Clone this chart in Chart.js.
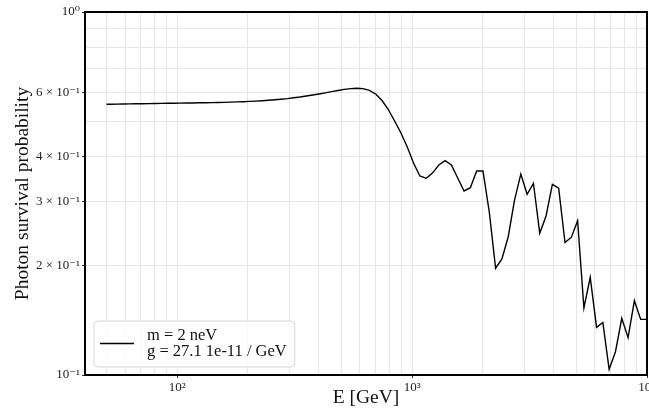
<!DOCTYPE html>
<html>
<head>
<meta charset="utf-8">
<script src="https://cdn.jsdelivr.net/npm/chart.js@4/dist/chart.umd.min.js"></script>
<style>
  html, body { margin: 0; padding: 0; background: #ffffff; overflow: hidden; }
  #wrap { width: 700px; height: 415px; }
</style>
</head>
<body>
<div id="wrap"><canvas id="c" width="700" height="415"></canvas></div>
<script>
// Photon energy grid (GeV)
const energyGeV = [
  50, 52.12, 55.44, 58.98, 62.74, 66.74, 71.00, 75.54, 80.35, 85.48, 90.93,
  96.74, 102.9, 109.5, 116.5, 123.9, 131.8, 140.2, 149.1, 158.7, 168.8,
  179.6, 191.0, 203.2, 216.2, 229.9, 244.6, 260.2, 276.8, 294.4, 313.3,
  333.3, 354.5, 377.1, 401.2, 426.8, 454.0, 483.0, 513.8, 546.5, 581.4,
  618.5, 658.0, 699.9, 744.6, 792.1, 842.6, 896.4, 953.6, 1014, 1079,
  1148, 1221, 1299, 1382, 1470, 1564, 1664, 1770, 1883, 2003,
  2131, 2267, 2412, 2566, 2729, 2903, 3088, 3285, 3495, 3718,
  3955, 4207, 4476, 4761, 5065, 5388, 5732, 6098, 6486, 6900,
  7341, 7809, 8307, 8837, 9401, 10000
];

// Survival probability for m = 2 neV, g = 27.1e-11 / GeV
const survivalProb = [
  0.5569, 0.5572, 0.5575, 0.5579, 0.5582, 0.5586, 0.5589, 0.5593, 0.5596, 0.5600, 0.5603,
  0.5607, 0.5610, 0.5614, 0.5617, 0.5621, 0.5624, 0.5628, 0.5635, 0.5638, 0.5646,
  0.5653, 0.5660, 0.5671, 0.5682, 0.5696, 0.5711, 0.5729, 0.5751, 0.5773, 0.5803,
  0.5832, 0.5870, 0.5907, 0.5945, 0.5987, 0.6033, 0.6079, 0.6121, 0.6152, 0.6164,
  0.6149, 0.6086, 0.5945, 0.5704, 0.5387, 0.5008, 0.4642, 0.4246, 0.3837, 0.3533,
  0.3482, 0.3600, 0.3788, 0.3896, 0.3788, 0.3488, 0.3213, 0.3281, 0.3646, 0.3646,
  0.2812, 0.1968, 0.2087, 0.2404, 0.3034, 0.3578, 0.3147, 0.3374, 0.2457, 0.2742,
  0.3352, 0.3269, 0.2318, 0.2394, 0.2661, 0.1530, 0.1859, 0.1353, 0.1395, 0.1037,
  0.1159, 0.1432, 0.1267, 0.1602, 0.1423, 0.1423
];

const seriesLabel = ['m = 2 neV', 'g = 27.1 1e-11 / GeV'];

// Axis ticks (grid at every decade subdivision, labels on a few)
const xTickValues = [50, 60, 70, 80, 90, 100, 200, 300, 400, 500, 600, 700, 800, 900,
                     1000, 2000, 3000, 4000, 5000, 6000, 7000, 8000, 9000, 10000];
const xTickLabels = ['', '', '', '', '', '10²', '', '', '', '', '', '', '', '',
                     '10³', '', '', '', '', '', '', '', '', '10⁴'];
const yTickValues = [0.1, 0.2, 0.3, 0.4, 0.5, 0.6, 0.7, 0.8, 0.9, 1.0];
const yTickLabels = ['10⁻¹', '2 × 10⁻¹', '3 × 10⁻¹', '4 × 10⁻¹', '', '6 × 10⁻¹', '', '', '', '10⁰'];

const SERIF = "'Liberation Serif', 'DejaVu Serif', serif";
const GRID = '#e6e6e6';

const frameAndLegend = {
  id: 'frameAndLegend',
  afterDraw(chart) {
    const { ctx, chartArea: a } = chart;
    ctx.save();
    // axes frame
    ctx.strokeStyle = '#000';
    ctx.lineWidth = 2;
    ctx.strokeRect(a.left, a.top, a.right - a.left, a.bottom - a.top);

    // legend box, lower left
    ctx.font = '16.5px ' + SERIF;
    const textW = Math.max(...seriesLabel.map(t => ctx.measureText(t).width));
    const bx = a.left + 9, by = a.bottom - 54, bh = 46;
    const bw = (147 - 94) + textW + 8;
    const r = 4;
    ctx.beginPath();
    ctx.moveTo(bx + r, by);
    ctx.arcTo(bx + bw, by, bx + bw, by + bh, r);
    ctx.arcTo(bx + bw, by + bh, bx, by + bh, r);
    ctx.arcTo(bx, by + bh, bx, by, r);
    ctx.arcTo(bx, by, bx + bw, by, r);
    ctx.closePath();
    ctx.fillStyle = 'rgba(255,255,255,0.8)';
    ctx.fill();
    ctx.strokeStyle = '#d6d6d6';
    ctx.lineWidth = 1;
    ctx.stroke();

    ctx.beginPath();
    ctx.moveTo(bx + 6, by + 22.5);
    ctx.lineTo(bx + 40, by + 22.5);
    ctx.strokeStyle = '#000';
    ctx.lineWidth = 1.4;
    ctx.stroke();

    ctx.fillStyle = '#111';
    ctx.textAlign = 'left';
    ctx.textBaseline = 'alphabetic';
    ctx.fillText(seriesLabel[0], bx + 53, by + 18.5);
    ctx.fillText(seriesLabel[1], bx + 53, by + 35);
    ctx.restore();
  }
};

new Chart(document.getElementById('c'), {
  type: 'line',
  data: {
    datasets: [{
      label: seriesLabel.join(', '),
      data: energyGeV.map((e, i) => ({ x: e, y: survivalProb[i] })),
      borderColor: '#000',
      borderWidth: 1.4,
      pointRadius: 0,
      tension: 0,
      fill: false
    }]
  },
  options: {
    responsive: false,
    animation: false,
    devicePixelRatio: 1,
    layout: { padding: { left: 0, top: 12, right: 53, bottom: 0 } },
    plugins: { legend: { display: false }, tooltip: { enabled: false } },
    scales: {
      x: {
        type: 'logarithmic',
        min: 40.5,
        max: 10000,
        afterBuildTicks: s => { s.ticks = xTickValues.map(v => ({ value: v })); },
        afterFit: s => { s.height = 40; },
        ticks: {
          autoSkip: false, maxRotation: 0, padding: 2,
          color: '#222', font: { family: SERIF, size: 13 },
          callback: (v, i) => xTickLabels[i]
        },
        grid: {
          color: GRID, lineWidth: 1, tickLength: 3,
          tickColor: c => (xTickLabels[c.index] ? '#333' : 'rgba(0,0,0,0)')
        },
        border: { display: false },
        title: {
          display: true, text: 'E [GeV]', color: '#111',
          font: { family: SERIF, size: 19.5 }, padding: { top: 0, bottom: 5 }
        }
      },
      y: {
        type: 'logarithmic',
        min: 0.1,
        max: 1,
        afterBuildTicks: s => { s.ticks = yTickValues.map(v => ({ value: v })); },
        afterFit: s => { s.width = 85; },
        ticks: {
          autoSkip: false, padding: 2,
          color: '#222', font: { family: SERIF, size: 13 },
          callback: (v, i) => yTickLabels[i]
        },
        grid: {
          color: GRID, lineWidth: 1, tickLength: 3,
          tickColor: c => (yTickLabels[c.index] ? '#333' : 'rgba(0,0,0,0)')
        },
        border: { display: false },
        title: {
          display: true, text: 'Photon survival probability', color: '#111',
          font: { family: SERIF, size: 19.5 }, padding: { top: 11, bottom: 0 }
        }
      }
    }
  },
  plugins: [frameAndLegend]
});
</script>
</body>
</html>
